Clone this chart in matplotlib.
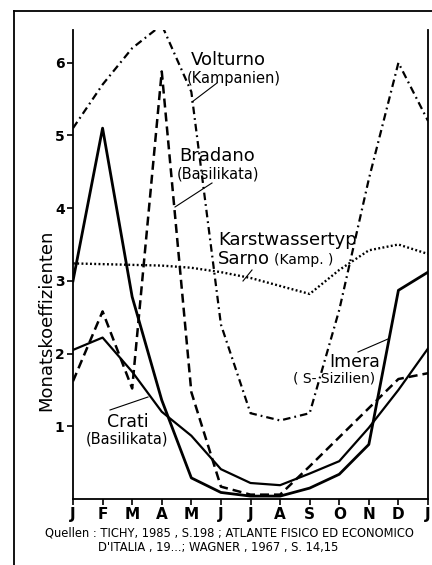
import numpy as np
import matplotlib
matplotlib.use("Agg")
import matplotlib.pyplot as plt
from matplotlib.lines import Line2D

# monthly coefficients, Jan .. Jan
months = ["J", "F", "M", "A", "M", "J", "J", "A", "S", "O", "N", "D", "J"]
volturno = [5.1, 5.7, 6.2, 6.52, 5.6, 2.4, 1.18, 1.08, 1.18, 2.6, 4.4, 6.0, 5.2]
bradano = [1.62, 2.58, 1.52, 5.88, 1.47, 0.17, 0.06, 0.06, 0.45, 0.85, 1.25, 1.65, 1.73]
sarno = [3.24, 3.23, 3.22, 3.21, 3.18, 3.12, 3.04, 2.93, 2.82, 3.15, 3.42, 3.5, 3.37]
imera = [3.0, 5.1, 2.78, 1.36, 0.29, 0.09, 0.04, 0.04, 0.15, 0.34, 0.75, 2.87, 3.12]
crati = [2.05, 2.22, 1.75, 1.2, 0.87, 0.41, 0.22, 0.19, 0.35, 0.52, 0.98, 1.5, 2.07]
yticks = [1, 2, 3, 4, 5, 6]

W, H = 432, 565
fig = plt.figure(figsize=(W / 100, H / 100), dpi=100)

def fx(px):
    return px / W

def fy(py):
    return 1 - py / H

# axes placed in pixel terms: x 73..428, y 499 (0) .. 30 (top)
ax = fig.add_axes([fx(73), fy(499), fx(428) - fx(73), fy(30) - fy(499)])
x = np.arange(len(months))

ax.plot(x, volturno, color="black", lw=1.6, linestyle=(0, (3.4, 1.8, 0.8, 1.8)))
ax.plot(x, bradano, color="black", lw=1.8, linestyle=(0, (3.6, 2.0)))
ax.plot(x, sarno, color="black", lw=1.7, linestyle=(0, (0.8, 1.0)))
ax.plot(x, imera, color="black", lw=2.0)
ax.plot(x, crati, color="black", lw=1.6)

ax.set_xlim(0, 12)
ax.set_ylim(0, 6.45)
ax.set_xticks(x)
ax.set_xticklabels(months, fontsize=11, fontweight="bold")
ax.set_yticks(yticks)
ax.set_yticklabels([str(t) for t in yticks], fontsize=10, fontweight="bold")
ax.spines["top"].set_visible(False)
for s in ["left", "right", "bottom"]:
    ax.spines[s].set_linewidth(1.3)
ax.tick_params(axis="both", direction="out", length=4, width=1.2, pad=2)
ax.tick_params(axis="x", pad=2)

fig.text(fx(46), fy(320), "Monatskoeffizienten", rotation=90, fontsize=13,
         ha="center", va="center")

# labels for the curves
def label(px, py, txt, size):
    fig.text(fx(px), fy(py), txt, fontsize=size, ha="left", va="center")

def leader(x0, y0, x1, y1):
    fig.add_artist(Line2D([fx(x0), fx(x1)], [fy(y0), fy(y1)], color="black", lw=0.8))

label(191, 60, "Volturno", 13)
label(187, 78, "(Kampanien)", 10.5)
leader(217, 83, 192, 102)

label(179, 156, "Bradano", 13)
label(177, 174, "(Basilikata)", 10.5)
leader(212, 183, 175, 207)

label(218, 240, "Karstwassertyp", 13)
label(218, 259, "Sarno", 13)
label(274, 260, "(Kamp. )", 10)
leader(252, 270, 243, 281)

label(329, 362, "Imera", 12.5)
label(293, 379, "( S- Sizilien)", 10)
leader(358, 352, 388, 339)

label(107, 422, "Crati", 12.5)
label(86, 439, "(Basilikata)", 10.5)
leader(110, 410, 148, 397)

# sources
fig.text(fx(45), fy(533), "Quellen : TICHY, 1985 , S.198 ; ATLANTE FISICO ED ECONOMICO",
         fontsize=8.3, ha="left", va="center")
fig.text(fx(98), fy(547), "D'ITALIA , 19...; WAGNER , 1967 , S. 14,15",
         fontsize=8.3, ha="left", va="center")

# outer frame (left and top edges)
fig.add_artist(Line2D([fx(14), fx(14)], [fy(11), fy(565)], color="black", lw=1.3))
fig.add_artist(Line2D([fx(14), fx(432)], [fy(11), fy(11)], color="black", lw=1.3))

fig.savefig("out.png", dpi=100)
